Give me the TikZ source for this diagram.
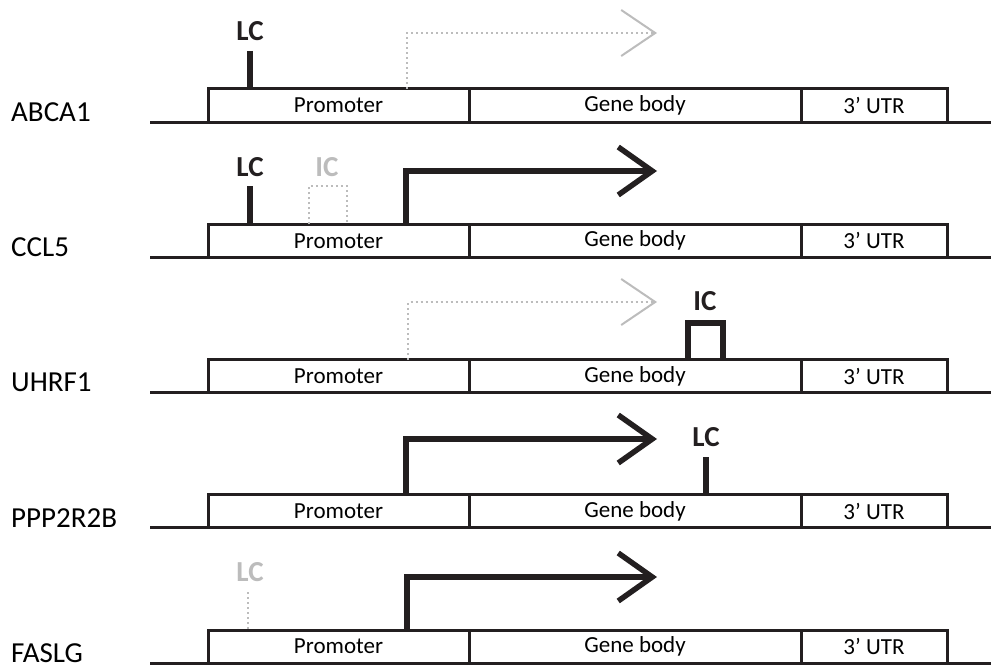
\documentclass[tikz,border=0pt]{standalone}
\usepackage{fontspec}
\setmainfont{Carlito}
\usetikzlibrary{arrows.meta}
\definecolor{inkblack}{RGB}{35,31,32}
\definecolor{faintgray}{RGB}{188,188,188}
\tikzset{
  region/.style={draw=inkblack, line width=3pt, minimum height=33pt, inner sep=0pt, outer sep=0pt,
    anchor=north west, font=\fontsize{23}{25}\selectfont},
  strand/.style={draw=inkblack, line width=3pt},
  genelabel/.style={anchor=west, inner sep=0pt, font=\fontsize{29}{31}\selectfont},
  onlabel/.style={inner sep=0pt, text=inkblack, font=\bfseries\fontsize{29}{31}\selectfont},
  offlabel/.style={onlabel, text=faintgray},
  onmark/.style={draw=inkblack, line width=5.5pt, line join=miter},
  offmark/.style={draw=faintgray, line width=2pt, dash pattern=on 2pt off 3pt},
  onarrow/.style={onmark, -{Straight Barb[length=34pt,width=48pt]}},
  offarrow/.style={offmark, -{Straight Barb[length=34pt,width=46pt,line width=2pt]}}
}
\begin{document}
\begin{tikzpicture}[x=1pt,y=-1pt]
\useasboundingbox (0,0) rectangle (991,669);
% gene tracks
\foreach \gname [count=\i] in {ABCA1,CCL5,UHRF1,PPP2R2B,FASLG}{
  \pgfmathsetmacro{\rowtop}{89+(\i-1)*135.25}
  \draw[strand] (150,\rowtop+33) -- (991,\rowtop+33);
  \node[region, minimum width=261pt] (prom\i) at (208,\rowtop) {Promoter};
  \node[region, minimum width=332pt] (body\i) at (prom\i.north east) {Gene body};
  \node[region, minimum width=146pt] (utr\i) at (body\i.north east) {3’ UTR};
  \node[genelabel] (gene\i) at (11,\rowtop+23) {\gname};
}
% ABCA1
\node[onlabel] (lcA) at (250,31) {LC};
\coordinate (lcAfoot) at (250,51);
\draw[onmark] (lcAfoot) -- (lcAfoot |- prom1.north);
\coordinate (tssA) at (407,0 |- prom1.north);
\coordinate (endA) at (657,33);
\draw[offarrow] (tssA) |- (endA);
% CCL5
\node[onlabel] (lcB) at (250,167) {LC};
\node[offlabel] (icB) at (327,167) {IC};
\coordinate (lcBfoot) at (250,186);
\draw[onmark] (lcBfoot) -- (lcBfoot |- prom2.north);
\draw[offmark] (309,0 |- prom2.north) |- (347,186) -- (347,0 |- prom2.north);
\coordinate (tssB) at (406,0 |- prom2.north);
\coordinate (endB) at (657,171);
\draw[onarrow] (tssB) |- (endB);
% UHRF1
\coordinate (tssC) at (408,0 |- prom3.north);
\coordinate (endC) at (657,302);
\draw[offarrow] (tssC) |- (endC);
\node[onlabel] (icC) at (705,301) {IC};
\draw[onmark] (688,0 |- body3.north) |- (723,323) -- (723,0 |- body3.north);
% PPP2R2B
\coordinate (tssD) at (406,0 |- prom4.north);
\coordinate (endD) at (657,439);
\draw[onarrow] (tssD) |- (endD);
\node[onlabel] (lcD) at (706,437) {LC};
\coordinate (lcDfoot) at (706,457);
\draw[onmark] (lcDfoot) -- (lcDfoot |- body4.north);
% FASLG
\node[offlabel] (lcE) at (250,572) {LC};
\coordinate (lcEfoot) at (248,592);
\draw[offmark] (lcEfoot) -- (lcEfoot |- prom5.north);
\coordinate (tssE) at (407,0 |- prom5.north);
\coordinate (endE) at (657,577);
\draw[onarrow] (tssE) |- (endE);
\end{tikzpicture}
\end{document}
